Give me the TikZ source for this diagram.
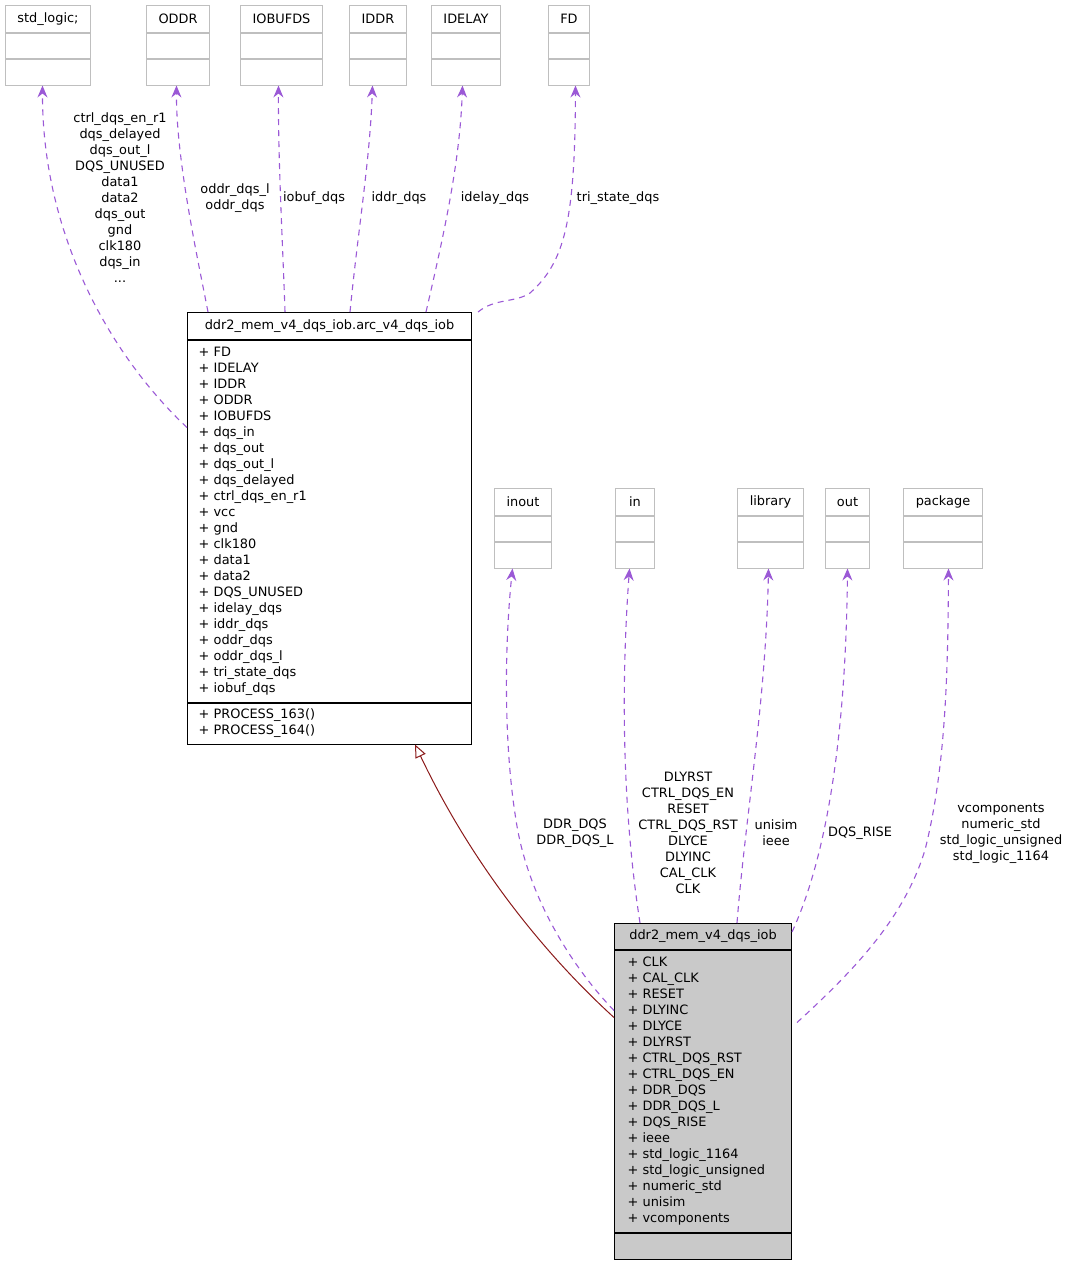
\documentclass[tikz,border=0pt]{standalone}
\usepackage{fontspec}
\setmainfont{DejaVu Sans}
\usetikzlibrary{positioning,arrows.meta}
\definecolor{usecol}{RGB}{155,89,214}
\definecolor{inhcol}{RGB}{139,26,26}
\definecolor{boxgray}{RGB}{191,191,191}
\definecolor{boxfill}{RGB}{201,201,201}
\begin{document}
\begin{tikzpicture}[x=1pt, y=-1pt,
  every node/.style = {font=\fontsize{12.9}{16}\selectfont, inner sep=0pt},
  emptytitle/.style = {draw=boxgray, line width=1pt, anchor=north west,
    minimum height=26.5pt},
  emptypart/.style = {draw=boxgray, line width=1pt, minimum height=25.5pt},
  clstitle/.style = {draw, line width=1pt, anchor=north west, align=center,
    minimum height=26.5pt},
  clspart/.style = {draw, line width=1pt, align=left},
  lbl/.style = {align=center},
  uses/.style = {draw=usecol, line width=1.1pt, dash pattern=on 6pt off 5pt,
    -{Stealth[length=12pt, width=10pt, inset=4pt, color=usecol]}},
  inherit/.style = {draw=inhcol, line width=1pt,
    -{Triangle[open, length=13pt, width=11pt, fill=white]}}]
  \useasboundingbox (0,0) rectangle (1073,1267);
  % empty classes
  \foreach \n/\x/\y/\w/\t in {stdlogic/5/5/85/{std\_logic;}, oddr/146/5/63/ODDR,
      iobufds/240/5/82/IOBUFDS, iddr/349/5/57/IDDR, idelay/431/5/69/IDELAY,
      fd/548/5/41/FD, inout/494/488/57/inout, in/615/488/39/in,
      library/737/488/66/library, out/825/488/44/out, package/903/488/79/package}{
    \node[emptytitle, minimum width=\w pt] (\n) at (\x,\y) {\t};
    \node[emptypart, minimum width=\w pt, below=0pt of \n] (\n-a) {};
    \node[emptypart, minimum width=\w pt, below=0pt of \n-a] (\n-b) {};
  }
  % architecture
  \node[clstitle, text width=262pt, inner xsep=11pt] (arc) at (187,312)
    {ddr2\_mem\_v4\_dqs\_iob.arc\_v4\_dqs\_iob};
  \node[clspart, text width=262pt, inner xsep=11pt, minimum height=362pt,
    below=0pt of arc] (arc-a)
    {+ FD\\+ IDELAY\\+ IDDR\\+ ODDR\\+ IOBUFDS\\+ dqs\_in\\+ dqs\_out\\
     + dqs\_out\_l\\+ dqs\_delayed\\+ ctrl\_dqs\_en\_r1\\+ vcc\\+ gnd\\
     + clk180\\+ data1\\+ data2\\+ DQS\_UNUSED\\+ idelay\_dqs\\+ iddr\_dqs\\
     + oddr\_dqs\\+ oddr\_dqs\_l\\+ tri\_state\_dqs\\+ iobuf\_dqs};
  \node[clspart, text width=262pt, inner xsep=11pt, minimum height=41pt,
    below=0pt of arc-a] (arc-m) {+ PROCESS\_163()\\+ PROCESS\_164()};
  % entity
  \node[clstitle, fill=boxfill, text width=153pt, inner xsep=12pt,
    minimum height=25.5pt] (iob) at (614,923) {ddr2\_mem\_v4\_dqs\_iob};
  \node[clspart, fill=boxfill, text width=151pt, inner xsep=13pt,
    minimum height=282pt, below=0pt of iob] (iob-a)
    {+ CLK\\+ CAL\_CLK\\+ RESET\\+ DLYINC\\+ DLYCE\\+ DLYRST\\
     + CTRL\_DQS\_RST\\+ CTRL\_DQS\_EN\\+ DDR\_DQS\\+ DDR\_DQS\_L\\
     + DQS\_RISE\\+ ieee\\+ std\_logic\_1164\\+ std\_logic\_unsigned\\
     + numeric\_std\\+ unisim\\+ vcomponents};
  \node[clspart, fill=boxfill, text width=151pt, inner xsep=13pt,
    minimum height=26pt, below=0pt of iob-a] (iob-m) {};
  % usage edges of the architecture
  \draw[uses] ([yshift=-88pt]arc-a.north west) .. controls (115,360) and (42,240)
    .. ([xshift=-5.5pt]stdlogic-b.south);
  \draw[uses] ([xshift=21pt]arc.north west) .. controls (198,260) and (176,160)
    .. ([xshift=-1.5pt]oddr-b.south);
  \draw[uses] ([xshift=98pt]arc.north west) .. controls (283,250) and (278,160)
    .. ([xshift=-3pt]iobufds-b.south);
  \draw[uses] ([xshift=163pt]arc.north west) .. controls (358,230) and (370,160)
    .. ([xshift=-5.5pt]iddr-b.south);
  \draw[uses] ([xshift=239pt]arc.north west) .. controls (445,230) and (460,160)
    .. ([xshift=-3.5pt]idelay-b.south);
  \draw[uses] ([xshift=291pt]arc.north west) .. controls (495,298) and (515,303)
    .. (530,293) .. controls (565,262) and (575,220) .. ([xshift=6.5pt]fd-b.south);
  % usage edges of the entity
  \draw[uses] ([yshift=-61pt]iob-a.north west) .. controls (575,970) and (528,900)
    .. (516,820) .. controls (503,740) and (505,640) .. ([xshift=-10.5pt]inout-b.south);
  \draw[uses] ([xshift=26pt]iob.north west) .. controls (624,820) and (620,700)
    .. ([xshift=-5.5pt]in-b.south);
  \draw[uses] ([xshift=123pt]iob.north west) .. controls (745,820) and (766,700)
    .. ([xshift=-2pt]library-b.south);
  \draw[uses] ([yshift=-9pt]iob.north east) .. controls (830,850) and (846,720)
    .. (out-b.south);
  \draw[uses] ([xshift=5pt,yshift=-73pt]iob-a.north east) .. controls (860,965)
    and (905,915) .. (925,850) .. controls (945,770) and (948,680)
    .. ([xshift=5.5pt]package-b.south);
  % inheritance
  \draw[inherit] ([yshift=-68pt]iob-a.north west) .. controls (540,950) and (470,860)
    .. ([xshift=228pt]arc-m.south west);
  % edge labels
  \node[lbl] (l-stdlogic) at (120,198) {ctrl\_dqs\_en\_r1\\dqs\_delayed\\dqs\_out\_l\\
    DQS\_UNUSED\\data1\\data2\\dqs\_out\\gnd\\clk180\\dqs\_in\\...};
  \node[lbl] (l-oddr) at (235,198) {oddr\_dqs\_l\\oddr\_dqs};
  \node[lbl] (l-iobufds) at (314,198) {iobuf\_dqs};
  \node[lbl] (l-iddr) at (399,198) {iddr\_dqs};
  \node[lbl] (l-idelay) at (495,198) {idelay\_dqs};
  \node[lbl] (l-fd) at (618,198) {tri\_state\_dqs};
  \node[lbl] (l-inout) at (575,833) {DDR\_DQS\\DDR\_DQS\_L};
  \node[lbl] (l-in) at (688,833) {DLYRST\\CTRL\_DQS\_EN\\RESET\\CTRL\_DQS\_RST\\
    DLYCE\\DLYINC\\CAL\_CLK\\CLK};
  \node[lbl] (l-library) at (776,833) {unisim\\ieee};
  \node[lbl] (l-out) at (860,833) {DQS\_RISE};
  \node[lbl] (l-package) at (1001,833) {vcomponents\\numeric\_std\\
    std\_logic\_unsigned\\std\_logic\_1164};
\end{tikzpicture}
\end{document}
